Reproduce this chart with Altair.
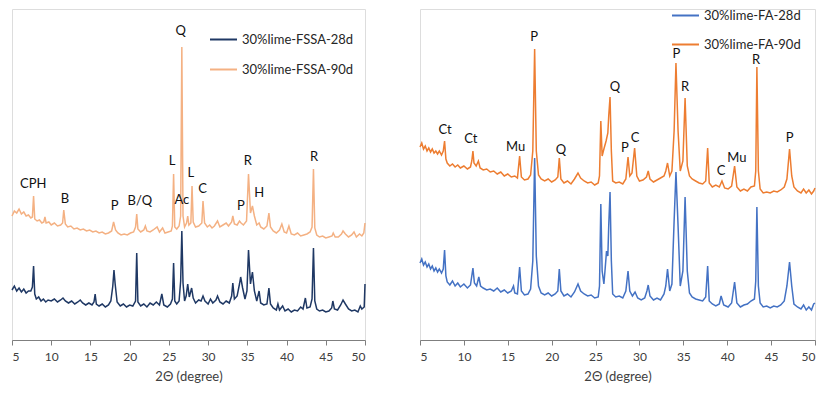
import altair as alt
import pandas as pd

# ---------------- Left panel: FSSA ----------------
fssa90_theta = [5.0, 5.3, 5.6, 5.9, 6.2, 6.5, 6.8, 7.1, 7.4, 7.6, 7.75, 7.9, 8.2, 8.5, 8.8, 9.05, 9.2, 9.35, 9.7, 10.0,
                10.4, 10.8, 11.2, 11.45, 11.6, 11.8, 12.1, 12.5, 12.9, 13.3, 13.7, 14.1, 14.5, 14.9, 15.3, 15.7, 16.1, 16.5, 16.9, 17.3,
                17.7, 17.95, 18.2, 18.5, 18.9, 19.3, 19.7, 20.1, 20.5, 20.75, 20.9, 21.05, 21.4, 21.8, 22.0, 22.2, 22.6, 23.0, 23.5, 23.8,
                24.2, 24.5, 24.9, 25.3, 25.45, 25.6, 25.75, 26.0, 26.3, 26.5, 26.65, 26.8, 27.0, 27.25, 27.4, 27.55, 27.8, 27.95, 28.1, 28.4,
                28.8, 29.2, 29.35, 29.55, 29.9, 30.2, 30.5, 30.8, 31.2, 31.5, 31.9, 32.3, 32.6, 33.0, 33.15, 33.35, 33.7, 34.0, 34.2, 34.5,
                34.9, 35.15, 35.4, 35.65, 35.9, 36.2, 36.5, 36.7, 37.1, 37.5, 37.75, 37.95, 38.3, 38.7, 39.1, 39.4, 39.7, 40.0, 40.3, 40.6,
                41.0, 41.4, 41.8, 42.2, 42.6, 43.0, 43.25, 43.43, 43.6, 43.85, 44.2, 44.6, 45.0, 45.4, 45.8, 45.95, 46.2, 46.6, 47.0, 47.2,
                47.5, 47.9, 48.3, 48.6, 48.9, 49.3, 49.6, 49.85, 50.0]
fssa90_int = [124, 129, 127, 131, 126, 128, 124, 125, 122, 123, 144, 121, 119, 120, 117, 118, 123, 117, 118, 115,
              117, 114, 115, 117, 130, 116, 113, 114, 111, 112, 110, 111, 109, 110, 108, 109, 107, 108, 106, 107,
              109, 118, 110, 107, 105, 106, 105, 107, 108, 113, 126, 111, 108, 110, 114, 109, 108, 110, 113, 108,
              112, 107, 108, 109, 114, 166, 113, 111, 114, 124, 293, 124, 113, 117, 124, 115, 117, 154, 118, 113,
              114, 117, 139, 117, 113, 115, 112, 114, 119, 113, 115, 117, 114, 118, 124, 116, 115, 119, 117, 115,
              119, 166, 127, 134, 124, 115, 117, 113, 111, 114, 127, 113, 109, 107, 110, 116, 108, 107, 114, 106,
              105, 107, 104, 105, 106, 108, 113, 171, 112, 105, 103, 104, 102, 103, 104, 107, 103, 103, 106, 109,
              106, 103, 105, 108, 103, 106, 104, 107, 117]

fssa28_theta = [5.0, 5.3, 5.6, 5.9, 6.2, 6.5, 6.8, 7.1, 7.4, 7.6, 7.75, 7.9, 8.1, 8.4, 8.7, 9.0, 9.3, 9.6, 10.0, 10.4,
                10.8, 11.2, 11.5, 11.8, 12.2, 12.6, 13.0, 13.4, 13.7, 14.0, 14.4, 14.8, 15.2, 15.45, 15.6, 15.75, 16.1, 16.5, 16.9, 17.3,
                17.6, 17.85, 18.0, 18.15, 18.4, 18.8, 19.2, 19.6, 20.0, 20.4, 20.75, 20.9, 21.05, 21.4, 21.8, 22.2, 22.6, 23.0, 23.4, 23.8,
                24.1, 24.35, 24.8, 25.2, 25.45, 25.6, 25.75, 26.0, 26.3, 26.5, 26.65, 26.8, 27.0, 27.2, 27.4, 27.6, 27.9, 28.1, 28.4, 28.8,
                29.1, 29.35, 29.6, 30.0, 30.3, 30.6, 31.0, 31.2, 31.5, 31.9, 32.3, 32.7, 33.0, 33.15, 33.35, 33.7, 34.0, 34.15, 34.4, 34.7,
                34.95, 35.15, 35.4, 35.65, 35.9, 36.2, 36.5, 36.7, 37.1, 37.5, 37.75, 37.95, 38.3, 38.7, 38.9, 39.1, 39.5, 39.8, 40.2, 40.6,
                41.0, 41.4, 41.8, 42.1, 42.4, 42.6, 43.0, 43.25, 43.43, 43.6, 43.85, 44.2, 44.6, 45.0, 45.4, 45.75, 45.9, 46.1, 46.5, 46.9,
                47.2, 47.5, 47.9, 48.3, 48.7, 49.1, 49.4, 49.6, 49.9, 50.0]
fssa28_int = [50, 54, 49, 52, 48, 51, 47, 49, 49, 53, 74, 46, 41, 43, 39, 41, 38, 40, 39, 41,
              38, 40, 42, 39, 37, 39, 36, 38, 40, 37, 35, 37, 35, 38, 46, 36, 34, 36, 33, 35,
              39, 54, 70, 56, 38, 34, 36, 33, 35, 34, 39, 87, 38, 34, 36, 33, 37, 35, 38, 35,
              46, 35, 33, 36, 41, 77, 39, 36, 39, 59, 109, 57, 39, 44, 56, 43, 52, 42, 37, 40,
              39, 44, 39, 36, 41, 37, 40, 44, 38, 36, 39, 37, 44, 57, 41, 44, 56, 63, 52, 41,
              49, 90, 56, 68, 49, 39, 49, 37, 35, 36, 52, 36, 32, 30, 36, 30, 34, 29, 31, 28,
              30, 29, 33, 31, 42, 32, 33, 41, 92, 39, 31, 29, 30, 28, 29, 32, 39, 31, 30, 35,
              40, 36, 31, 29, 30, 28, 34, 31, 33, 56]

fssa_lab_text = ["CPH", "B", "P", "B/Q", "L", "Q", "Ac", "L", "C", "P", "R", "H", "R"]
fssa_lab_theta = [7.7, 11.75, 18.1, 21.3, 25.4, 26.5, 26.65, 27.8, 29.3, 34.17, 35.06, 36.5, 43.5]
fssa_lab_int = [156, 141, 134, 139, 179, 309, 140, 167, 151, 134, 179, 147, 183]

# ---------------- Right panel: FA ----------------
fa90_theta = [5.0, 5.2, 5.4, 5.6, 5.8, 6.0, 6.2, 6.4, 6.6, 6.8, 7.0, 7.2, 7.45, 7.65, 7.8, 7.95, 8.1, 8.4, 8.7, 9.0,
              9.3, 9.6, 10.0, 10.4, 10.75, 10.9, 11.03, 11.15, 11.4, 11.65, 11.85, 12.2, 12.6, 13.0, 13.4, 13.8, 14.2, 14.6, 15.0, 15.4,
              15.8, 16.1, 16.35, 16.55, 16.9, 17.3, 17.6, 17.85, 18.06, 18.25, 18.5, 18.8, 19.2, 19.6, 20.0, 20.4, 20.7, 20.87, 21.05, 21.4,
              21.8, 22.2, 22.6, 23.0, 23.3, 23.7, 24.1, 24.5, 24.9, 25.3, 25.45, 25.6, 25.75, 25.95, 26.2, 26.4, 26.5, 26.65, 26.8, 26.95,
              27.3, 27.7, 28.1, 28.45, 28.7, 28.9, 29.15, 29.45, 29.7, 30.0, 30.4, 30.8, 31.0, 31.2, 31.6, 32.0, 32.4, 32.8, 33.0, 33.2,
              33.45, 33.7, 33.95, 34.16, 34.4, 34.65, 34.95, 35.2, 35.45, 35.7, 36.0, 36.4, 36.8, 37.2, 37.55, 37.77, 37.95, 38.3, 38.7, 39.1,
              39.4, 39.7, 40.1, 40.5, 40.84, 41.1, 41.5, 41.9, 42.3, 42.7, 43.1, 43.25, 43.38, 43.55, 43.75, 44.1, 44.5, 44.9, 45.3, 45.7,
              46.1, 46.5, 46.8, 47.1, 47.35, 47.6, 48.0, 48.4, 48.7, 49.0, 49.3, 49.6, 49.85, 50.0]
fa90_int = [193, 197, 191, 194, 189, 192, 188, 191, 187, 189, 186, 189, 185, 189, 199, 181, 177, 174, 176, 173,
            175, 172, 174, 171, 173, 179, 189, 177, 174, 179, 172, 170, 171, 168, 169, 166, 168, 164, 166, 163,
            164, 162, 184, 163, 160, 161, 165, 189, 291, 189, 165, 161, 159, 161, 158, 160, 163, 182, 161, 157,
            159, 156, 161, 167, 162, 159, 157, 158, 155, 157, 164, 219, 184, 191, 199, 207, 224, 243, 189, 159,
            157, 158, 156, 161, 183, 164, 167, 192, 164, 159, 160, 163, 169, 161, 158, 160, 162, 164, 169, 177,
            164, 169, 209, 277, 209, 169, 179, 242, 174, 164, 161, 159, 157, 156, 159, 192, 157, 153, 155, 153,
            159, 152, 151, 154, 174, 153, 149, 151, 149, 153, 154, 169, 273, 169, 151, 147, 148, 147, 149, 148,
            150, 153, 161, 191, 164, 153, 149, 147, 151, 147, 150, 146, 149, 152]

fa28_theta = [5.0, 5.2, 5.4, 5.6, 5.8, 6.0, 6.2, 6.4, 6.6, 6.8, 7.0, 7.2, 7.45, 7.65, 7.8, 7.95, 8.1, 8.4, 8.7, 9.0,
              9.3, 9.6, 10.0, 10.4, 10.75, 11.03, 11.2, 11.45, 11.7, 11.9, 12.2, 12.6, 13.0, 13.4, 13.8, 14.2, 14.6, 15.0, 15.4, 15.65,
              15.8, 16.1, 16.35, 16.55, 16.9, 17.3, 17.6, 17.85, 18.06, 18.25, 18.5, 18.8, 19.2, 19.6, 20.0, 20.4, 20.7, 20.87, 21.05, 21.4,
              21.8, 22.2, 22.6, 23.0, 23.3, 23.7, 24.1, 24.5, 24.9, 25.3, 25.45, 25.6, 25.75, 25.95, 26.1, 26.25, 26.4, 26.5, 26.65, 26.8,
              26.95, 27.3, 27.7, 28.1, 28.45, 28.7, 28.9, 29.2, 29.5, 29.8, 30.2, 30.6, 30.85, 31.0, 31.2, 31.6, 32.0, 32.4, 32.8, 33.0,
              33.2, 33.45, 33.7, 33.95, 34.16, 34.4, 34.65, 34.95, 35.2, 35.45, 35.7, 36.0, 36.4, 36.8, 37.2, 37.55, 37.77, 37.95, 38.3, 38.7,
              39.1, 39.3, 39.6, 40.1, 40.5, 40.84, 41.1, 41.5, 41.9, 42.3, 42.7, 43.1, 43.25, 43.38, 43.55, 43.75, 44.1, 44.5, 44.9, 45.3,
              45.7, 46.1, 46.5, 46.8, 47.1, 47.35, 47.6, 48.0, 48.4, 48.7, 49.0, 49.3, 49.6, 49.85, 50.0]
fa28_int = [77, 81, 75, 78, 73, 76, 71, 74, 69, 72, 68, 71, 67, 71, 90, 64, 58, 55, 59, 54,
            57, 53, 56, 52, 55, 72, 57, 54, 63, 54, 52, 50, 51, 49, 52, 48, 50, 47, 49, 54,
            47, 46, 73, 49, 45, 46, 51, 79, 182, 84, 54, 47, 45, 47, 44, 46, 49, 71, 49, 44,
            46, 43, 48, 56, 49, 46, 44, 45, 42, 43, 54, 136, 69, 56, 72, 89, 84, 114, 148, 79,
            46, 43, 44, 42, 49, 69, 49, 44, 48, 42, 40, 42, 49, 55, 44, 40, 42, 40, 46, 54,
            71, 49, 56, 119, 168, 114, 54, 69, 143, 69, 47, 43, 41, 40, 39, 43, 74, 39, 36, 34,
            36, 44, 35, 33, 37, 58, 37, 33, 35, 36, 39, 41, 59, 133, 54, 37, 33, 34, 32, 34,
            33, 35, 39, 54, 78, 54, 36, 33, 31, 35, 30, 33, 30, 36, 37]

fa_lab_text = ["Ct", "Ct", "Mu", "P", "Q", "Q", "P", "C", "P", "R", "C", "Mu", "R", "P"]
fa_lab_theta = [7.85, 10.8, 15.9, 18.0, 21.06, 27.2, 28.35, 29.5, 34.2, 35.2, 39.3, 41.1, 43.3, 47.1]
fa_lab_int = [210, 201, 193, 303, 190, 253, 192, 202, 286, 253, 169, 182, 280, 202]

x_ticks = [5, 10, 15, 20, 25, 30, 35, 40, 45, 50]

FSSA_NAMES = ["30%lime-FSSA-28d", "30%lime-FSSA-90d"]
FSSA_COLORS = ["#1f3864", "#f4b183"]
FA_NAMES = ["30%lime-FA-28d", "30%lime-FA-90d"]
FA_COLORS = ["#4472c4", "#ed7d31"]

FONT = "Lato"
PLOT_H = 331


def series_df(thetas, ints, name):
    return pd.DataFrame({"theta": thetas, "I": ints, "series": name})


def panel(df_28, df_90, labels_df, names, colors, width, lx, ly, row_pad):
    x = alt.X("theta:Q", scale=alt.Scale(domain=[5, 50], nice=False, zero=False),
              axis=alt.Axis(values=x_ticks, title="2Θ (degree)", grid=False, labelOverlap=False,
                            labelBound=False, labelSeparation=0,
                            domainColor="#7f7f7f", tickColor="#7f7f7f", tickSize=5,
                            labelFont=FONT, labelFontSize=12, labelColor="#404040", labelPadding=6,
                            titleFont=FONT, titleFontSize=13, titleFontWeight="normal",
                            titleColor="#404040", titlePadding=8))
    y = alt.Y("I:Q", scale=alt.Scale(domain=[0, PLOT_H]), axis=None)
    color = alt.Color("series:N", scale=alt.Scale(domain=names, range=colors),
                      legend=alt.Legend(title=None, orient="none", legendX=lx, legendY=ly,
                                        symbolType="M-2.7,0H2.7", symbolSize=100, symbolStrokeWidth=2,
                                        labelFont=FONT, labelFontSize=13, labelColor="#262626",
                                        labelOffset=12, rowPadding=row_pad, padding=0))
    l90 = alt.Chart(df_90).mark_line(strokeWidth=1.5).encode(x=x, y=y, color=color)
    l28 = alt.Chart(df_28).mark_line(strokeWidth=1.5).encode(x=x, y=y, color=color)
    txt = alt.Chart(labels_df).mark_text(font=FONT, fontSize=13, color="#111111", baseline="middle").encode(
        x=x, y=y, text="label:N")
    return alt.layer(l90, l28, txt).properties(width=width, height=PLOT_H)


left = panel(series_df(fssa28_theta, fssa28_int, FSSA_NAMES[0]),
             series_df(fssa90_theta, fssa90_int, FSSA_NAMES[1]),
             pd.DataFrame({"theta": fssa_lab_theta, "I": fssa_lab_int, "label": fssa_lab_text}),
             FSSA_NAMES, FSSA_COLORS, 353, 205, 24, 16)
right = panel(series_df(fa28_theta, fa28_int, FA_NAMES[0]),
              series_df(fa90_theta, fa90_int, FA_NAMES[1]),
              pd.DataFrame({"theta": fa_lab_theta, "I": fa_lab_int, "label": fa_lab_text}),
              FA_NAMES, FA_COLORS, 395, 259, 0, 15)

chart = alt.hconcat(left, right, spacing=55, bounds="flush").resolve_scale(color="independent").properties(
    padding={"left": 0, "top": 0, "right": 0, "bottom": 0}
).configure_view(stroke=None).configure_axisX(labelOverlap=False).configure(background="white")

chart.save("out.html", embed_options={"renderer": "svg", "actions": False})
